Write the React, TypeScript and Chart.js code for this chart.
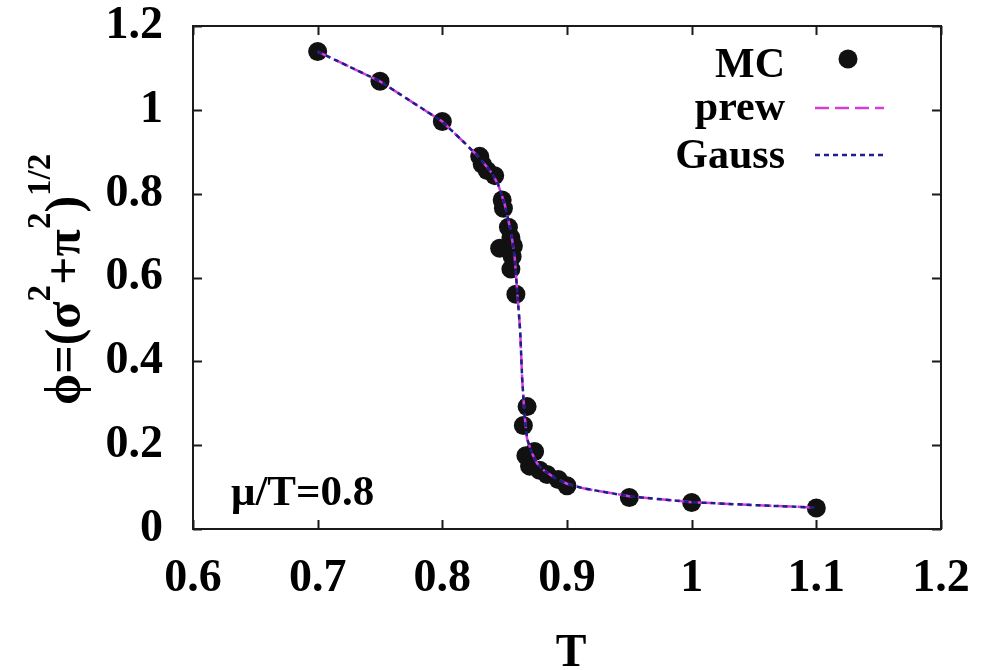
import React, { useEffect, useRef } from "react";
import { Chart, registerables } from "chart.js";
Chart.register(...registerables);

// Monte Carlo points
const mcT = [0.70, 0.75, 0.80, 0.83, 0.832, 0.836, 0.842, 0.848, 0.849, 0.853, 0.855, 0.846, 0.857, 0.856, 0.855, 0.859, 0.868, 0.865, 0.867, 0.874, 0.870, 0.878, 0.884, 0.893, 0.900, 0.95, 1.00, 1.10];
const mcPhi = [1.139, 1.068, 0.972, 0.889, 0.870, 0.855, 0.843, 0.785, 0.765, 0.720, 0.695, 0.670, 0.675, 0.650, 0.620, 0.560, 0.292, 0.247, 0.175, 0.185, 0.150, 0.140, 0.130, 0.118, 0.103, 0.075, 0.063, 0.050];

// fit curves
const curveT = [0.70, 0.75, 0.80, 0.82, 0.83, 0.84, 0.845, 0.85, 0.855, 0.858, 0.860, 0.8625, 0.864, 0.866, 0.868, 0.872, 0.876, 0.88, 0.89, 0.90, 0.913, 0.95, 1.00, 1.05, 1.10];
const prewPhi = [1.139, 1.068, 0.972, 0.915, 0.885, 0.848, 0.820, 0.775, 0.710, 0.650, 0.570, 0.470, 0.360, 0.270, 0.215, 0.180, 0.157, 0.143, 0.122, 0.108, 0.097, 0.078, 0.064, 0.057, 0.051];
const gaussPhi = [1.139, 1.068, 0.972, 0.915, 0.885, 0.848, 0.820, 0.775, 0.710, 0.650, 0.570, 0.470, 0.360, 0.270, 0.215, 0.180, 0.157, 0.143, 0.122, 0.108, 0.097, 0.078, 0.064, 0.057, 0.051];

const xTicks = [0.6, 0.7, 0.8, 0.9, 1.0, 1.1, 1.2];
const xTickLabels = ["0.6", "0.7", "0.8", "0.9", "1", "1.1", "1.2"];
const yTicks = [0, 0.2, 0.4, 0.6, 0.8, 1.0, 1.2];
const yTickLabels = ["0", "0.2", "0.4", "0.6", "0.8", "1", "1.2"];
const seriesNames = ["MC", "prew", "Gauss"];
const annotationText = "\u03bc/T=0.8";
const xTitle = "T";
const yTitleParts: [string, boolean][] = [
  ["\u03d5=(\u03c3", false],
  ["2", true],
  ["+\u03c0", false],
  ["2", true],
  [")", false],
  ["1/2", true],
];

const SERIF = "'Liberation Serif', 'DejaVu Serif', serif";
const PREW_COLOR = "#d63cd6";
const GAUSS_COLOR = "#1e1e8e";

const decorPlugin = {
  id: "decor",
  afterDraw(chart: any) {
    const ctx = chart.ctx;
    const { left, right, top, bottom } = chart.chartArea;
    const xs = chart.scales.x;
    const ys = chart.scales.y;
    ctx.save();
    // frame
    ctx.strokeStyle = "#1a1a1a";
    ctx.lineWidth = 2;
    ctx.strokeRect(left, top, right - left, bottom - top);
    // inward ticks on all four sides
    const tl = 9;
    ctx.beginPath();
    xTicks.forEach((v) => {
      const px = Math.round(xs.getPixelForValue(v)) + 0.5;
      ctx.moveTo(px, bottom);
      ctx.lineTo(px, bottom - tl);
      ctx.moveTo(px, top);
      ctx.lineTo(px, top + tl);
    });
    yTicks.forEach((v) => {
      const py = Math.round(ys.getPixelForValue(v)) + 0.5;
      ctx.moveTo(left, py);
      ctx.lineTo(left + tl, py);
      ctx.moveTo(right, py);
      ctx.lineTo(right - tl, py);
    });
    ctx.stroke();

    // legend
    ctx.fillStyle = "#000";
    ctx.font = `bold 42px ${SERIF}`;
    ctx.textAlign = "right";
    ctx.textBaseline = "alphabetic";
    const textRight = 785;
    const baselines = [77, 120, 168];
    const sampleCenters = [59, 108, 155];
    seriesNames.forEach((n, i) => ctx.fillText(n, textRight, baselines[i]));
    // MC marker
    ctx.beginPath();
    ctx.arc(848, sampleCenters[0], 9.5, 0, Math.PI * 2);
    ctx.fillStyle = "#111";
    ctx.fill();
    // prew sample
    ctx.lineWidth = 2.5;
    ctx.setLineDash([14, 6]);
    ctx.strokeStyle = PREW_COLOR;
    ctx.beginPath();
    ctx.moveTo(815, sampleCenters[1]);
    ctx.lineTo(884, sampleCenters[1]);
    ctx.stroke();
    // Gauss sample
    ctx.setLineDash([5, 4]);
    ctx.strokeStyle = GAUSS_COLOR;
    ctx.beginPath();
    ctx.moveTo(815, sampleCenters[2]);
    ctx.lineTo(884, sampleCenters[2]);
    ctx.stroke();
    ctx.setLineDash([]);

    // annotation
    ctx.fillStyle = "#000";
    ctx.textAlign = "left";
    ctx.font = `bold 43px ${SERIF}`;
    ctx.fillText(annotationText, 231, 505);

    // x title
    ctx.textAlign = "center";
    ctx.font = `bold 46px ${SERIF}`;
    ctx.fillText(xTitle, 571, 666);

    // y title (rotated, with superscripts)
    ctx.translate(80, 405);
    ctx.rotate(-Math.PI / 2);
    ctx.textAlign = "left";
    let cx = 0;
    yTitleParts.forEach(([t, sup]) => {
      ctx.font = sup ? `bold 33px ${SERIF}` : `bold 50px ${SERIF}`;
      ctx.fillText(t, cx, sup ? -30 : 0);
      cx += ctx.measureText(t).width;
    });
    ctx.restore();
  },
};

export default function App() {
  const ref = useRef<HTMLCanvasElement | null>(null);
  useEffect(() => {
    if (!ref.current) return;
    const chart = new Chart(ref.current, {
      type: "scatter",
      data: {
        datasets: [
          {
            label: seriesNames[2],
            type: "line",
            data: curveT.map((t, i) => ({ x: t, y: gaussPhi[i] })),
            borderColor: GAUSS_COLOR,
            borderWidth: 2.5,
            borderDash: [5, 4],
            pointRadius: 0,
            fill: false,
            tension: 0,
            order: 1,
          },
          {
            label: seriesNames[1],
            type: "line",
            data: curveT.map((t, i) => ({ x: t, y: prewPhi[i] })),
            borderColor: PREW_COLOR,
            borderWidth: 2.5,
            borderDash: [14, 6],
            pointRadius: 0,
            fill: false,
            tension: 0,
            order: 2,
          },
          {
            label: seriesNames[0],
            data: mcT.map((t, i) => ({ x: t, y: mcPhi[i] })),
            backgroundColor: "#111",
            borderWidth: 0,
            pointRadius: 9.5,
            order: 3,
          },
        ],
      } as any,
      options: {
        animation: false,
        responsive: false,
        maintainAspectRatio: false,
        layout: { padding: { left: 0, top: 26, right: 51, bottom: 0 } },
        plugins: { legend: { display: false }, tooltip: { enabled: false }, title: { display: false } },
        scales: {
          x: {
            type: "linear",
            min: 0.6,
            max: 1.2,
            grid: { display: false, drawTicks: false },
            border: { display: false },
            afterBuildTicks: (s: any) => {
              s.ticks = xTicks.map((v) => ({ value: v }));
            },
            afterFit: (s: any) => {
              s.height = 141;
              s.paddingLeft = 0;
              s.paddingRight = 0;
            },
            ticks: {
              padding: 23,
              color: "#000",
              font: { family: SERIF, size: 46, weight: "bold" },
              maxRotation: 0,
              autoSkip: false,
              callback: (_v: any, i: number) => xTickLabels[i],
            },
          },
          y: {
            type: "linear",
            min: 0,
            max: 1.2,
            grid: { display: false, drawTicks: false },
            border: { display: false },
            afterBuildTicks: (s: any) => {
              s.ticks = yTicks.map((v) => ({ value: v }));
            },
            afterFit: (s: any) => {
              s.width = 193;
              s.paddingTop = 0;
              s.paddingBottom = 0;
            },
            ticks: {
              padding: 30,
              color: "#000",
              font: { family: SERIF, size: 46, weight: "bold" },
              autoSkip: false,
              callback: (_v: any, i: number) => yTickLabels[i],
            },
          },
        },
      } as any,
      plugins: [decorPlugin],
    });
    return () => chart.destroy();
  }, []);
  return (
    <div style={{ position: "fixed", left: 0, top: 0, width: 992, height: 670, background: "#fff" }}>
      <canvas ref={ref} width={992} height={670} style={{ width: 992, height: 670, display: "block" }} />
    </div>
  );
}
